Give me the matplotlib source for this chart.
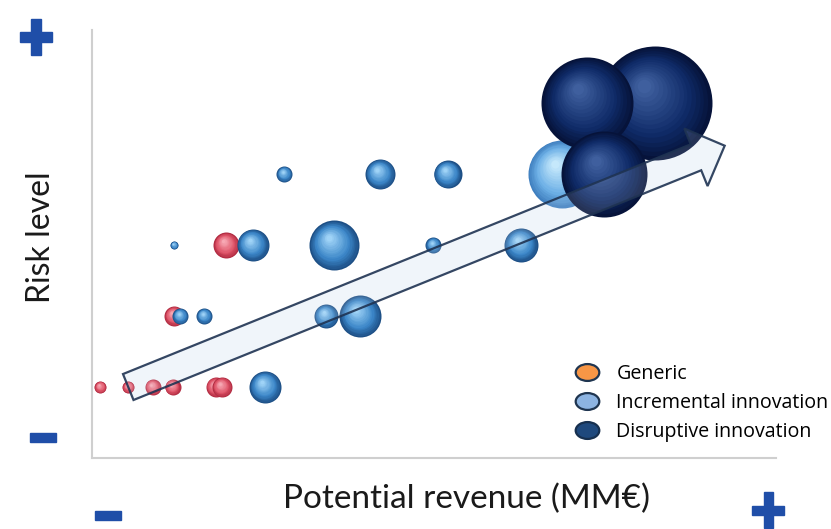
import numpy as np
import matplotlib
matplotlib.use("Agg")
import matplotlib.pyplot as plt
import matplotlib.transforms as mtransforms
from matplotlib.patches import Polygon, Rectangle
from matplotlib.lines import Line2D
from matplotlib.path import Path
from matplotlib.colors import to_rgb

# --- data (revenue, risk level, bubble radius in px)
generic_x = [1.2, 5.3, 8.9, 11.8, 18.1, 19.0, 19.6, 12.0]
generic_y = [1, 1, 1, 1, 1, 1, 3, 2]
generic_r = [6, 6, 8, 8, 10, 10, 13, 10]

incr_x = [25.3, 12.0, 23.5, 35.4, 12.9, 16.4, 34.2, 39.2, 28.1, 42.1, 52.0, 49.9, 62.7]
incr_y = [1, 3, 3, 3, 2, 2, 2, 2, 4, 4, 4, 3, 3]
incr_r = [16, 4, 16, 25, 8, 8, 12, 21, 8, 15, 14, 8, 17]

incr_big_x = [68.7]
incr_big_y = [4]
incr_big_r = [34]

disr_x = [82.3, 72.4, 74.9]
disr_y = [5, 5, 4]
disr_r = [57, 46, 43]

legend_labels = ["Generic", "Incremental innovation", "Disruptive innovation"]

# --- figure
fig = plt.figure(figsize=(8.31, 5.29), dpi=100)
ax = fig.add_axes([92/831, 71/529, 684/831, 428/529])
ax.set_xlim(0, 100)
ax.set_ylim(0, 6.03)
ax.set_xticks([])
ax.set_yticks([])
for s in ["top", "right"]:
    ax.spines[s].set_visible(False)
for s in ["left", "bottom"]:
    ax.spines[s].set_color("#cfcfcf")
    ax.spines[s].set_linewidth(1.5)


def mix(c1, c2, t):
    a = np.array(to_rgb(c1))
    b = np.array(to_rgb(c2))
    return tuple(a + (b - a) * t)


def sphere(x, y, r, rim, mid, light, z):
    n = 16
    for k in range(n):
        t = k / (n - 1)
        rad = r * (1 - 0.88 * t)
        dx = -0.2 * r * t
        dy = 0.3 * r * t
        if t < 0.35:
            c = mix(rim, mid, t / 0.35)
        else:
            c = mix(mid, light, (t - 0.35) / 0.65)
        tr = mtransforms.offset_copy(ax.transData, fig=fig, x=dx, y=dy, units="dots")
        ax.scatter([x], [y], s=(2 * rad * 0.72) ** 2, color=c, lw=0,
                   transform=tr, zorder=z, clip_on=False)


for x, y, r in zip(generic_x, generic_y, generic_r):
    sphere(x, y, r, "#b02a40", "#e0566a", "#f7a9b4", 2)
for x, y, r in zip(incr_x, incr_y, incr_r):
    sphere(x, y, r, "#1d4f85", "#3b86c8", "#9fd3f7", 3)
for x, y, r in zip(incr_big_x, incr_big_y, incr_big_r):
    sphere(x, y, r, "#3f7fbf", "#6db0e6", "#c5e8fb", 4)
for i, (x, y, r) in enumerate(zip(disr_x, disr_y, disr_r)):
    sphere(x, y, r, "#06133a", "#0f2b68", "#3f5f9e", 5 + i)

# --- arrow (drawn in pixels from the data-space end points)
tail = ax.transData.transform((5.3, 1.0))
tip = ax.transData.transform((92.5, 4.4))
d = tip - tail
L = np.hypot(*d)
u = d / L
nrm = np.array([-u[1], u[0]])
w = 14
hw = 31
hl = 31
base = tip - u * hl
pts = [tail + nrm * w, base + nrm * w, base + nrm * hw, tip,
       base - nrm * hw, base - nrm * w, tail - nrm * w]
arrow = Polygon(pts, closed=True, transform=mtransforms.IdentityTransform(),
                facecolor=(0.90, 0.94, 0.98, 0.14), edgecolor=(0.12, 0.2, 0.32, 0.9),
                lw=1.6, zorder=9, clip_on=False)
ax.add_patch(arrow)
# light tint only where the arrow lies on white
ax.add_patch(Polygon(pts, closed=True, transform=mtransforms.IdentityTransform(),
                     facecolor="#f2f6fb", edgecolor="none", zorder=1, clip_on=False))

# --- legend
ell = Path.unit_circle().transformed(mtransforms.Affine2D().scale(1.4, 1.0))
handles = [
    Line2D([], [], ls="none", marker=ell, markersize=17, markerfacecolor="#f79646",
           markeredgecolor="#1f3550", markeredgewidth=1.6),
    Line2D([], [], ls="none", marker=ell, markersize=17, markerfacecolor="#8db4e2",
           markeredgecolor="#1f3550", markeredgewidth=1.6),
    Line2D([], [], ls="none", marker=ell, markersize=17, markerfacecolor="#1f497d",
           markeredgecolor="#17304f", markeredgewidth=1.6),
]
leg = ax.legend(handles, legend_labels, loc="upper left", bbox_to_anchor=(0.675, 0.26),
                frameon=False, handletextpad=0.7, labelspacing=0.45, handlelength=1.6,
                prop={"family": "Open Sans", "size": 14.1})
leg.set_zorder(20)

# --- axis titles
ax.set_xlabel("Potential revenue (MM€)", fontsize=24, family="Lato",
              color="#1a1a1a")
ax.xaxis.set_label_coords(0.547, -0.06)
ax.xaxis.label.set_va("top")
ax.set_ylabel("Risk level", fontsize=23, family="Lato",
              color="#1a1a1a")
ax.yaxis.set_label_coords(-0.052, 0.516)

# --- plus / minus markers
blue = "#1f4ea8"


def bar(cx, cy, wpx, hpx):
    fig.patches.append(Rectangle(((cx - wpx / 2) / 831, 1 - (cy + hpx / 2) / 529),
                                 wpx / 831, hpx / 529, transform=fig.transFigure,
                                 color=blue, zorder=30))


bar(36, 37, 32, 9)
bar(36, 37, 9, 36)
bar(43, 437, 26, 9)
bar(108, 515, 26, 9)
bar(768, 510, 32, 9)
bar(768, 510, 9, 36)

fig.savefig("out.png", dpi=100)
